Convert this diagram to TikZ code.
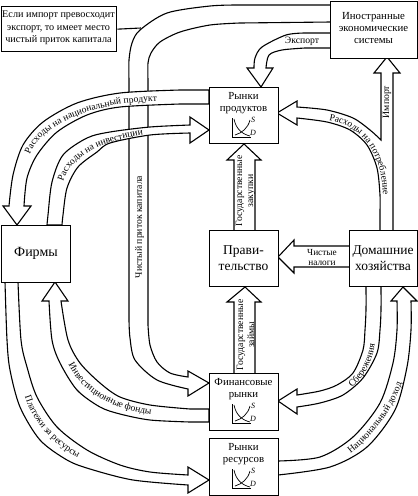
\documentclass[tikz,border=0pt]{standalone}
\usepackage{fontspec}
\setmainfont{Liberation Serif}
\usetikzlibrary{decorations.text}
\newcommand{\lblf}{\fontsize{9.6}{10.6}\selectfont}
\tikzset{
  flow/.style={draw=black,fill=white,line width=1.1pt,line join=miter},
  mybox/.style={draw=black,fill=white,line width=1.3pt,inner sep=0pt,anchor=north west},
  txt/.style={align=center,inner sep=0pt,font=\fontsize{10.8}{12.4}\selectfont},
  bigtxt/.style={align=center,inner sep=0pt,font=\fontsize{13.5}{16}\selectfont},
  lbl/.style={align=center,inner sep=0pt,font=\fontsize{9.7}{11}\selectfont},
  curvetxt/.style={decorate,decoration={text along path,text={|\lblf|#1},text align=center}},
  axisline/.style={line width=0.9pt},
  sdcurve/.style={line width=0.7pt},
  sdlbl/.style={inner sep=0pt,font=\fontsize{8}{8}\selectfont\itshape},
  pics/sdgraph/.style={code={
    \draw[axisline] (23,31) -- (23,50) -- (42,50);
    \draw[sdcurve] (25,32) .. controls (27,42) and (33,47) .. (41,49);
    \draw[sdcurve] (26,48) .. controls (33,46) and (39,41) .. (41,33);
    \node[sdlbl] (-s) at (44,33) {S};
    \node[sdlbl] (-d) at (44,46) {D};
  }}
}
\begin{document}
\begin{tikzpicture}[x=1pt,y=-1pt]
\useasboundingbox (0,0) rectangle (418,496);
\fill[white] (0,0) rectangle (418,496);
% capital inflow (behind the other flows)
\draw[flow] (331,5) -- (240,5) -- plot[smooth] coordinates {(240,5) (210,6) (167,13) (140,30) (132,43) (129,60) (129,80)} -- (129,320)
  -- plot[smooth] coordinates {(129,320) (130,338) (135,360) (157,380) (188,389)} -- (188,396) -- (209,383) -- (188,371) -- (188,377)
  -- plot[smooth] coordinates {(188,377) (170,373) (157,362) (150,345) (148,325)} -- (148,80)
  -- plot[smooth] coordinates {(148,80) (148,63) (151,53) (160,42) (180,32) (210,25) (240,23)} -- (331,22) -- cycle;
\coordinate (capjoin) at (141,28);
% national product
\draw[flow] (209,90) -- (180,90) -- plot[smooth] coordinates {(180,90) (120,93) (77,103) (43,122) (23,145) (13,175) (9,206)} -- (3,206) -- (17,225) -- (31,206) -- (24,206)
  -- plot[smooth] coordinates {(24,206) (27,178) (37,155) (57,132) (87,115) (120,107) (180,104)} -- (209,104) -- cycle;
% investment
\draw[flow] (47,225) -- plot[smooth] coordinates {(47,225) (48,215) (52,182) (63,155) (87,138) (110,132) (150,127) (190,125)} -- (190,117) -- (209,130) -- (190,143) -- (190,133)
  -- plot[smooth] coordinates {(190,133) (150,135) (110,143) (97,152) (78,167) (67,188) (63,215) (62,225)} -- cycle;
% export
\draw[flow] (331,33) -- (305,33) -- plot[smooth] coordinates {(305,33) (286,35) (262,47) (255,58) (254,68)} -- (247,68) -- (261,87) -- (273,68) -- (266,68)
  -- plot[smooth] coordinates {(266,68) (269,55) (282,50) (305,48)} -- (331,48) -- cycle;
% import and consumption
\draw[flow] (277,113) -- (297,125) -- (297,118) -- plot[smooth] coordinates {(297,118) (327,122) (350,130) (367,145) (377,168) (380,195) (380,210)} -- (380,231) -- (393,231) -- (393,73) -- (400,73) -- (387,57) -- (374,73) -- (381,73) -- (381,140)
  -- plot[smooth] coordinates {(381,140) (370,130) (353,118) (327,110) (297,107)} -- (297,101) -- cycle;
% government purchases and loans
\draw[flow] (234,231) -- (234,160) -- (227,160) -- (244,144) -- (261,160) -- (255,160) -- (255,231) -- cycle;
\draw[flow] (234,374) -- (234,302) -- (227,302) -- (245,287) -- (261,302) -- (255,302) -- (255,374) -- cycle;
% net taxes
\draw[flow] (350,246) -- (294,246) -- (294,240) -- (278,257) -- (294,273) -- (294,267) -- (350,267) -- cycle;
% savings
\draw[flow] (366,286) -- plot[smooth] coordinates {(366,286) (366,310) (365,330) (363,350) (353,373) (337,385) (320,391) (297,395)} -- (297,389) -- (278,401) -- (297,414) -- (297,407)
  -- plot[smooth] coordinates {(297,407) (320,403) (343,395) (363,378) (377,353) (380,330) (381,310) (381,286)} -- cycle;
% national income
\draw[flow] (278,461) -- plot[smooth] coordinates {(278,461) (320,457) (353,437) (380,403) (393,363) (397,330) (397,301)} -- (391,301) -- (403,287) -- (417,301) -- (411,301)
  -- plot[smooth] coordinates {(411,301) (411,330) (407,367) (395,410) (367,447) (330,467) (278,475)} -- cycle;
% investment funds
\draw[flow] (209,409) -- (190,409) -- plot[smooth] coordinates {(190,409) (150,405) (120,397) (100,383) (80,363) (68,340) (61,301)} -- (68,301) -- (55,282) -- (42,301) -- (49,301)
  -- plot[smooth] coordinates {(49,301) (52,340) (60,363) (77,390) (100,407) (120,414) (150,420) (190,422)} -- (209,422) -- cycle;
% resource payments
\draw[flow] (5,282) -- plot[smooth] coordinates {(5,282) (7,340) (10,370) (20,407) (40,440) (67,460) (90,469) (133,480) (188,485)} -- (188,493) -- (209,480) -- (188,467) -- (188,475)
  -- plot[smooth] coordinates {(188,475) (150,472) (120,465) (87,450) (57,427) (37,397) (27,367) (21,340) (18,282)} -- cycle;
% boxes
\node[mybox,minimum width=115pt,minimum height=45pt] (note) at (1,6) {};
\node[txt,font=\fontsize{10.2}{12.4}\selectfont] (notetxt) at (58.5,28) {Если импорт превосходит\\экспорт, то имеет место\\чистый приток капитала};
\draw[line width=1.1pt] (note.east) -- (capjoin);
\node[mybox,minimum width=87pt,minimum height=57pt] (foreign) at (330,0.7) {};
\node[txt] (foreigntxt) at (373.5,28) {Иностранные\\экономические\\системы};
\node[mybox,minimum width=69pt,minimum height=56pt] (prod) at (209,87) {};
\node[txt] (prodtxt) at (243.5,103) {Рынки\\продуктов};
\pic (g1) at (209,87) {sdgraph};
\node[mybox,minimum width=69pt,minimum height=56pt] (gov) at (209,230) {};
\node[bigtxt] (govtxt) at (243.5,258) {Прави-\\тельство};
\node[mybox,minimum width=68pt,minimum height=56pt] (home) at (349,230) {};
\node[bigtxt] (hometxt) at (383,258) {Домашние\\хозяйства};
\node[mybox,minimum width=69pt,minimum height=57pt] (firms) at (1,225) {};
\node[font=\fontsize{14}{16}\selectfont,inner sep=0pt] (firmstxt) at (36,253) {Фирмы};
\node[mybox,minimum width=69pt,minimum height=57pt] (fin) at (209,373) {};
\node[txt] (fintxt) at (243.5,389) {Финансовые\\рынки};
\pic (g2) at (209,373) {sdgraph};
\node[mybox,minimum width=69pt,minimum height=57pt] (res) at (209,438) {};
\node[txt] (restxt) at (243.5,454) {Рынки\\ресурсов};
\pic (g3) at (209,438) {sdgraph};
% straight labels
\node[lbl,rotate=90] (l1) at (139.5,227) {Чистый приток капитала};
\node[lbl] (l2) at (302,41) {Экспорт};
\node[lbl,rotate=90] (l3) at (387,102) {Импорт};
\node[lbl,rotate=90] (l4) at (245.5,191) {Государственные\\закупки};
\node[lbl,rotate=90] (l5) at (245.5,335) {Государственные\\займы};
\node[lbl,font=\fontsize{9.3}{10}\selectfont] (l6) at (322,257) {Чистые\\налоги};
% curved labels
\path[curvetxt={Расходы на национальный продукт}] (27.5,162) -- (29,157) .. controls (38,127) and (88,102) .. (160,101) -- (165,101);
\path[curvetxt={Расходы на инвестиции}] (61.7,187) -- (63,182) .. controls (69,160) and (95,142) .. (144,135) -- (149,134.3);
\path[curvetxt={Расходы на потребление}] (323,119.3) -- (328,120) .. controls (355,124) and (382,146) .. (383,196) -- (383,201);
\path[curvetxt={Сбережения}] (348,391.4) -- (352,388) .. controls (362,379) and (372,365) .. (375,344) -- (375.7,339);
\path[curvetxt={Национальный доход}] (346,457) -- (350,454) .. controls (371,438) and (392,412) .. (402,383) -- (403.7,378);
\path[curvetxt={Инвестиционные фонды}] (65.8,359.5) -- (68,364) .. controls (79,387) and (106,409) .. (152,415) -- (157,416);
\path[curvetxt={Платежи за ресурсы}] (23.1,390.7) -- (24.5,395.5) .. controls (31.5,419) and (51,444) .. (79,458) -- (83.5,460.3);
\end{tikzpicture}
\end{document}
